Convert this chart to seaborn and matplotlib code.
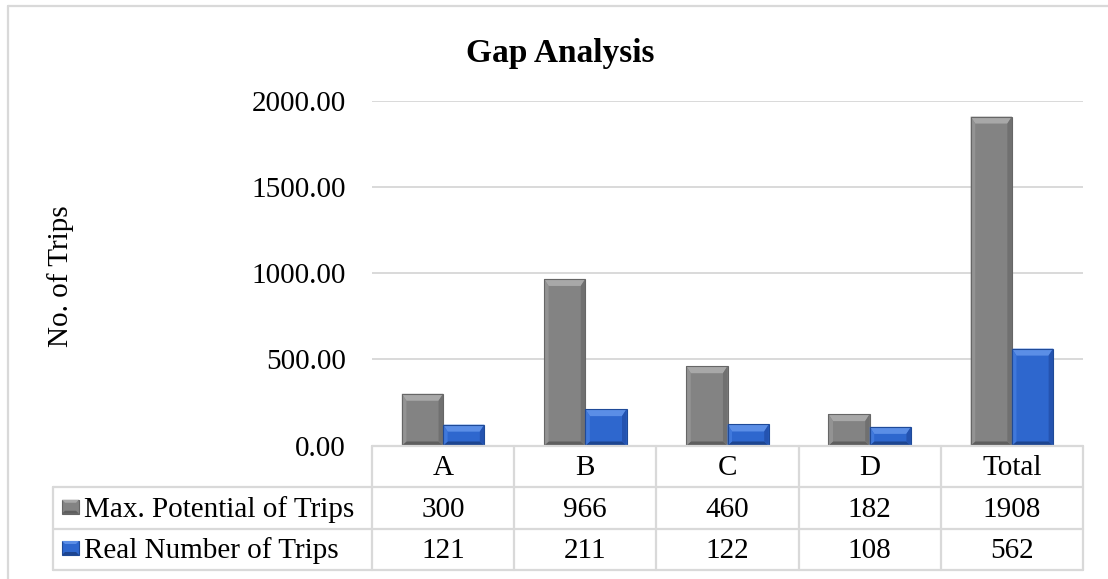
import matplotlib
matplotlib.use("Agg")
import matplotlib.pyplot as plt
import matplotlib.colors as mcolors
import seaborn as sns
import pandas as pd
from matplotlib.patches import Polygon, Rectangle
from matplotlib.lines import Line2D
from matplotlib.transforms import blended_transform_factory

# ---------------- data ----------------
categories = ["A", "B", "C", "D", "Total"]
series_names = ["Max. Potential of Trips", "Real Number of Trips"]
max_potential = [300, 966, 460, 182, 1908]
real_number = [121, 211, 122, 108, 562]
y_ticks = [0, 500, 1000, 1500, 2000]
title = "Gap Analysis"
y_label = "No. of Trips"

df = pd.DataFrame({
    "category": categories * 2,
    "series": [series_names[0]] * len(categories) + [series_names[1]] * len(categories),
    "value": max_potential + real_number,
})

# ---------------- style ----------------
sns.set_theme(style="white")
plt.rcParams["font.family"] = ["Liberation Serif", "DejaVu Serif"]

W, H = 1108, 579
fig = plt.figure(figsize=(W / 100, H / 100), dpi=100)
fig.patch.set_facecolor("white")

def fx(px):
    return px / W

def fy(py):
    return 1 - py / H

ax_left, ax_right, ax_top, ax_bottom = 372, 1083, 100.7, 445.5
ax = fig.add_axes([fx(ax_left), fy(ax_bottom), fx(ax_right - ax_left), (ax_bottom - ax_top) / H])

gray_face = "#838383"
blue_face = "#2e67ce"
palette = {series_names[0]: gray_face, series_names[1]: blue_face}

sns.barplot(data=df, x="category", y="value", hue="series", order=categories,
            hue_order=series_names, palette=palette, width=0.58, gap=0.0,
            saturation=1, ax=ax, legend=False, zorder=3, linewidth=0)

ax.set_ylim(0, 2000)
ax.set_xlim(-0.5, len(categories) - 0.5)
ax.set_yticks(y_ticks)
ax.set_yticklabels([f"{v:.2f}" for v in y_ticks], fontsize=21, color="black")
ax.tick_params(axis="y", length=0, pad=19)
ax.tick_params(axis="x", length=0, labelbottom=False)
ax.set_xlabel("")
ax.set_ylabel("")
for s in ax.spines.values():
    s.set_visible(False)
ax.yaxis.grid(True, color="#D9D9D9", linewidth=1.4, zorder=0)
ax.set_axisbelow(True)
ax.set_facecolor("none")

# ---------------- bevel effect on bars ----------------
bevel_colors = {
    "gray": dict(top="#A8A8A8", left="#939393", right="#707070", bottom="#5E5E5E", edge="#666666"),
    "blue": dict(top="#5B8EE6", left="#3F78DC", right="#2453B0", bottom="#1D4590", edge="#1F4A98"),
}
gray_rgb = mcolors.to_rgb(gray_face)
px_per_unit = (ax_bottom - ax_top) / 2000.0
bars = [p for p in ax.patches if isinstance(p, Rectangle) and p.get_height() > 0]
for p in bars:
    x, y, w, h = p.get_x(), p.get_y(), p.get_width(), p.get_height()
    fc = mcolors.to_rgb(p.get_facecolor())
    key = "gray" if sum(abs(a - b) for a, b in zip(fc, gray_rgb)) < 0.05 else "blue"
    cols = bevel_colors[key]
    bx = w * 0.11
    bt = min(7 / px_per_unit, h / 2)
    bb = min(4 / px_per_unit, h / 2)
    polys = [
        ([(x, y + h), (x + w, y + h), (x + w - bx, y + h - bt), (x + bx, y + h - bt)], cols["top"]),
        ([(x, y), (x + w, y), (x + w - bx, y + bb), (x + bx, y + bb)], cols["bottom"]),
        ([(x, y), (x + bx, y + bb), (x + bx, y + h - bt), (x, y + h)], cols["left"]),
        ([(x + w, y), (x + w - bx, y + bb), (x + w - bx, y + h - bt), (x + w, y + h)], cols["right"]),
    ]
    for pts, c in polys:
        ax.add_patch(Polygon(pts, closed=True, facecolor=c, edgecolor="none", zorder=4))
    ax.add_patch(Rectangle((x, y), w, h, fill=False, edgecolor=cols["edge"], linewidth=0.8, zorder=5))

# ---------------- title & y label ----------------
fig.text(fx(560), fy(62), title, ha="center", va="baseline", fontsize=24, fontweight="bold", color="black")
fig.text(fx(61), fy(276), y_label, ha="center", va="center", rotation=90, fontsize=21, color="black")

# ---------------- chart outer border ----------------
border_c = "#D9D9D9"
fig.add_artist(Line2D([fx(8), fx(8)], [fy(6), fy(579)], color=border_c, linewidth=1.6))
fig.add_artist(Line2D([fx(8), fx(1108)], [fy(6), fy(6)], color=border_c, linewidth=1.6))

# ---------------- data table ----------------
row_edges = [445.5, 487, 528.5, 569.5]
tbl_left = 53
grid_c = "#D9D9D9"
trans = blended_transform_factory(ax.transData, fig.transFigure)

fig.add_artist(Line2D([fx(ax_left), fx(ax_right)], [fy(row_edges[0])] * 2, color=grid_c, linewidth=1.6))
for ye in row_edges[1:]:
    fig.add_artist(Line2D([fx(tbl_left), fx(ax_right)], [fy(ye)] * 2, color=grid_c, linewidth=1.6))
for i in range(len(categories) + 1):
    xb = i - 0.5
    fig.add_artist(Line2D([xb, xb], [fy(row_edges[0]), fy(row_edges[-1])], transform=trans,
                          color=grid_c, linewidth=1.6, clip_on=False))
fig.add_artist(Line2D([fx(tbl_left)] * 2, [fy(row_edges[1]), fy(row_edges[-1])], color=grid_c, linewidth=1.6))

def row_baseline(r):
    return fy((row_edges[r] + row_edges[r + 1]) / 2 + 9)

for i, c in enumerate(categories):
    fig.text(i, row_baseline(0), c, transform=trans, ha="center", va="baseline", fontsize=21, color="black")
    fig.text(i, row_baseline(1), str(max_potential[i]), transform=trans, ha="center", va="baseline",
             fontsize=21, color="black")
    fig.text(i, row_baseline(2), str(real_number[i]), transform=trans, ha="center", va="baseline",
             fontsize=21, color="black")

# row labels with legend keys
for r, (name, key, face) in enumerate(zip(series_names, ["gray", "blue"], [gray_face, blue_face])):
    cols = bevel_colors[key]
    cy = (row_edges[r + 1] + row_edges[r + 2]) / 2 - 1
    kx0, kx1 = 62, 79
    ky0, ky1 = cy - 7, cy + 7
    b = 3
    fig.add_artist(Rectangle((fx(kx0), fy(ky1)), fx(kx1 - kx0), (ky1 - ky0) / H, facecolor=face,
                             edgecolor=cols["edge"], linewidth=0.8))
    fig.add_artist(Polygon([(fx(kx0), fy(ky0)), (fx(kx1), fy(ky0)), (fx(kx1 - b), fy(ky0 + b)),
                            (fx(kx0 + b), fy(ky0 + b))], closed=True, facecolor=cols["top"], edgecolor="none"))
    fig.add_artist(Polygon([(fx(kx0), fy(ky1)), (fx(kx1), fy(ky1)), (fx(kx1 - b), fy(ky1 - b)),
                            (fx(kx0 + b), fy(ky1 - b))], closed=True, facecolor=cols["bottom"], edgecolor="none"))
    fig.text(fx(84), row_baseline(r + 1), name, ha="left", va="baseline", fontsize=21, color="black")

fig.savefig("out.png", dpi=100)
